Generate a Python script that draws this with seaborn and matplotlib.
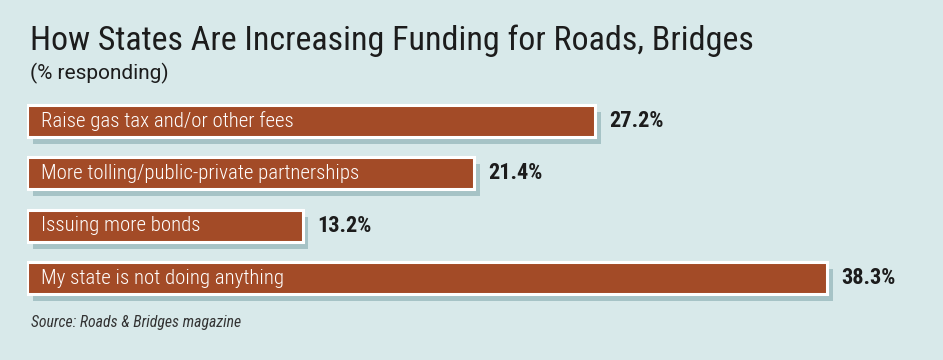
import matplotlib
matplotlib.use("Agg")
import matplotlib.pyplot as plt
import matplotlib.patheffects as pe
from matplotlib import font_manager
import pandas as pd
import seaborn as sns

categories = [
    "Raise gas tax and/or other fees",
    "More tolling/public-private partnerships",
    "Issuing more bonds",
    "My state is not doing anything",
]
values = [27.2, 21.4, 13.2, 38.3]
value_labels = ["27.2%", "21.4%", "13.2%", "38.3%"]

BG = "#d8e9ea"
BAR = "#a34b27"

sns.set_theme(style="white")
names = {f.name for f in font_manager.fontManager.ttflist}
family = "DejaVu Sans"
for cand in ["Liberation Sans Narrow", "Roboto Condensed", "Roboto"]:
    if cand in names:
        family = cand
        break
plt.rcParams["font.family"] = [family, "DejaVu Sans"]

df = pd.DataFrame({"category": categories, "value": values})

fig = plt.figure(figsize=(9.43, 3.6), dpi=100)
fig.patch.set_facecolor(BG)
ax = fig.add_axes([27 / 943, 0.155, 0.953, 0.5817])
ax.set_facecolor(BG)

sns.barplot(data=df, x="value", y="category", orient="h", color=BAR,
            width=0.61, saturation=1, edgecolor="white", linewidth=2.2, ax=ax)

# soft drop shadow under each bar
for patch in ax.patches:
    patch.set_path_effects([
        pe.SimplePatchShadow(offset=(4, -5), shadow_rgbFace="#5b8b92", alpha=0.4),
        pe.Normal(),
    ])

for i, (cat, val, lab) in enumerate(zip(categories, values, value_labels)):
    ax.annotate(cat, (0, i), xytext=(10, 0), textcoords="offset points",
                ha="left", va="center", color="white", fontsize=15,
                fontweight="light")
    ax.annotate(lab, (val, i), xytext=(10, 0), textcoords="offset points",
                ha="left", va="center", color="#1c1c1c", fontsize=16,
                fontweight="bold")

ax.set_xlim(0, 43)
ax.set_ylim(3.5, -0.5)
ax.axis("off")

fig.text(30 / 943, 1 - 41 / 360, "How States Are Increasing Funding for Roads, Bridges",
         fontsize=24.5, color="#1c1c1c", va="center", ha="left")
fig.text(30 / 943, 1 - 73 / 360, "(% responding)",
         fontsize=15, color="#1c1c1c", va="center", ha="left",
         family=["Roboto", "DejaVu Sans"])
fig.text(31 / 943, 1 - 322 / 360, "Source: Roads & Bridges magazine",
         fontsize=11.3, color="#333333", style="italic", va="center", ha="left")

fig.savefig("out.png", dpi=100, facecolor=BG)
